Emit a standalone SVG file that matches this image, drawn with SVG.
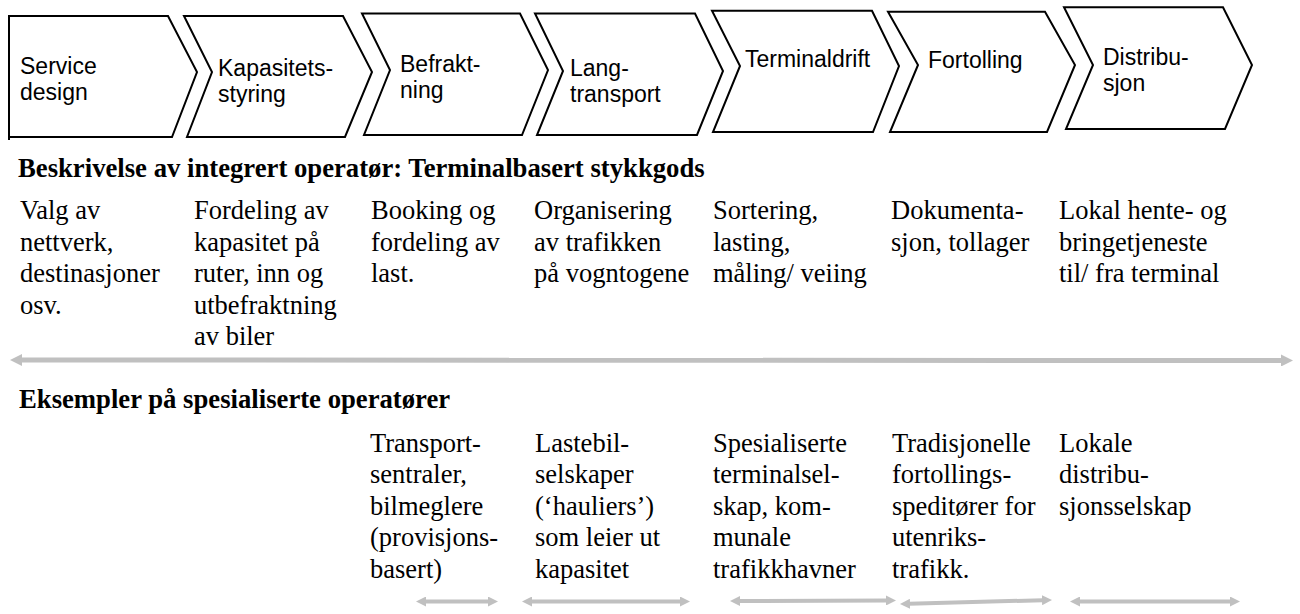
<svg xmlns="http://www.w3.org/2000/svg" width="1300" height="614" viewBox="0 0 1300 614">
<style>
.chev{fill:#fff;stroke:#000;stroke-width:2;stroke-linejoin:miter}
.ct{font-family:"Liberation Sans",Arial,sans-serif;font-size:23px;fill:#000}
.bt{font-family:"Liberation Serif","Times New Roman",serif;font-size:26.5px;fill:#000}
.hd{font-family:"Liberation Serif","Times New Roman",serif;font-size:26.7px;font-weight:bold;fill:#000}
.big{stroke:#c0c0c0;stroke-width:5;fill:none}
.sm{stroke:#c0c0c0;stroke-width:4;fill:none}
</style>
<defs>
<marker id="ahBig" viewBox="0 0 12 12" refX="1" refY="6" markerWidth="12" markerHeight="12" markerUnits="userSpaceOnUse" orient="auto-start-reverse">
<path d="M0,0 L12,6 L0,12 z" fill="#c0c0c0"/>
</marker>
<marker id="ahSm" viewBox="0 0 10 10" refX="1" refY="5" markerWidth="10" markerHeight="10" markerUnits="userSpaceOnUse" orient="auto-start-reverse">
<path d="M0,0 L10,5 L0,10 z" fill="#c0c0c0"/>
</marker>
</defs>
<rect width="1300" height="614" fill="#fff"/>

<g id="step-service-design">
<polygon class="chev" points="9,16 168,16 197,72 172,137 9,137"/>
<line x1="9" y1="137" x2="9" y2="140" stroke="#000" stroke-width="2"/>
<text class="ct" x="20" y="74">Service</text>
<text class="ct" x="20" y="100">design</text>
</g>
<g id="step-kapasitetsstyring">
<polygon class="chev" points="184,16 343,16 372,72 345,137 187,137 212,72"/>
<text class="ct" x="218" y="76">Kapasitets-</text>
<text class="ct" x="218" y="102">styring</text>
</g>
<g id="step-befraktning">
<polygon class="chev" points="362,13.5 520,13.5 548,70 522,135 364,135 390,70"/>
<text class="ct" x="400" y="72">Befrakt-</text>
<text class="ct" x="400" y="98">ning</text>
</g>
<g id="step-langtransport">
<polygon class="chev" points="535,13.5 695,13.5 723,71 697,135 537,135 563,71"/>
<text class="ct" x="570" y="76">Lang-</text>
<text class="ct" x="570" y="102">transport</text>
</g>
<g id="step-terminaldrift">
<polygon class="chev" points="712,10.7 872,10.7 899,66 873,132 713,132 740,66"/>
<text class="ct" x="745" y="67">Terminaldrift</text>
</g>
<g id="step-fortolling">
<polygon class="chev" points="888,11.7 1045,11.7 1075,65 1047,132 890,132 918,65"/>
<text class="ct" x="928" y="68">Fortolling</text>
</g>
<g id="step-distribusjon">
<polygon class="chev" points="1064,7.3 1223,7.3 1252,65 1225,129 1066,129 1093,65"/>
<text class="ct" x="1103" y="65">Distribu-</text>
<text class="ct" x="1103" y="91">sjon</text>
</g>

<g id="heading-integrert">
<text class="hd" x="18" y="177">Beskrivelse av integrert operatør: Terminalbasert stykkgods</text>
</g>

<g id="desc-service-design">
<text class="bt" x="20" y="219">Valg av</text>
<text class="bt" x="20" y="250.5">nettverk,</text>
<text class="bt" x="20" y="282">destinasjoner</text>
<text class="bt" x="20" y="313.5">osv.</text>
</g>
<g id="desc-kapasitetsstyring">
<text class="bt" x="194" y="219">Fordeling av</text>
<text class="bt" x="194" y="250.5">kapasitet på</text>
<text class="bt" x="194" y="282">ruter, inn og</text>
<text class="bt" x="194" y="313.5">utbefraktning</text>
<text class="bt" x="194" y="345">av biler</text>
</g>
<g id="desc-befraktning">
<text class="bt" x="371" y="219">Booking og</text>
<text class="bt" x="371" y="250.5">fordeling av</text>
<text class="bt" x="371" y="282">last.</text>
</g>
<g id="desc-langtransport">
<text class="bt" x="534" y="219">Organisering</text>
<text class="bt" x="534" y="250.5">av trafikken</text>
<text class="bt" x="534" y="282">på vogntogene</text>
</g>
<g id="desc-terminaldrift">
<text class="bt" x="713" y="219">Sortering,</text>
<text class="bt" x="713" y="250.5">lasting,</text>
<text class="bt" x="713" y="282">måling/ veiing</text>
</g>
<g id="desc-fortolling">
<text class="bt" x="891" y="219">Dokumenta-</text>
<text class="bt" x="891" y="250.5">sjon, tollager</text>
</g>
<g id="desc-distribusjon">
<text class="bt" x="1059" y="219">Lokal hente- og</text>
<text class="bt" x="1059" y="250.5">bringetjeneste</text>
<text class="bt" x="1059" y="282">til/ fra terminal</text>
</g>

<g id="heading-eksempler">
<text class="hd" x="19" y="408">Eksempler på spesialiserte operatører</text>
</g>

<g id="ex-befraktning">
<text class="bt" x="370" y="451.5">Transport-</text>
<text class="bt" x="370" y="483">sentraler,</text>
<text class="bt" x="370" y="514.5">bilmeglere</text>
<text class="bt" x="370" y="546">(provisjons-</text>
<text class="bt" x="370" y="577.5">basert)</text>
</g>
<g id="ex-langtransport">
<text class="bt" x="535" y="451.5">Lastebil-</text>
<text class="bt" x="535" y="483">selskaper</text>
<text class="bt" x="535" y="514.5">(‘hauliers’)</text>
<text class="bt" x="535" y="546">som leier ut</text>
<text class="bt" x="535" y="577.5">kapasitet</text>
</g>
<g id="ex-terminaldrift">
<text class="bt" x="713" y="451.5">Spesialiserte</text>
<text class="bt" x="713" y="483">terminalsel-</text>
<text class="bt" x="713" y="514.5">skap, kom-</text>
<text class="bt" x="713" y="546">munale</text>
<text class="bt" x="713" y="577.5">trafikkhavner</text>
</g>
<g id="ex-fortolling">
<text class="bt" x="892" y="451.5">Tradisjonelle</text>
<text class="bt" x="892" y="483">fortollings-</text>
<text class="bt" x="892" y="514.5">speditører for</text>
<text class="bt" x="892" y="546">utenriks-</text>
<text class="bt" x="892" y="577.5">trafikk.</text>
</g>
<g id="ex-distribusjon">
<text class="bt" x="1059" y="451.5">Lokale</text>
<text class="bt" x="1059" y="483">distribu-</text>
<text class="bt" x="1059" y="514.5">sjonsselskap</text>
</g>

<g id="connectors">
<line class="big" x1="21" y1="360" x2="1282" y2="360.5" marker-start="url(#ahBig)" marker-end="url(#ahBig)"/>
<line class="sm" x1="425" y1="601.5" x2="489" y2="601.5" marker-start="url(#ahSm)" marker-end="url(#ahSm)"/>
<line class="sm" x1="531" y1="601.5" x2="681" y2="601.5" marker-start="url(#ahSm)" marker-end="url(#ahSm)"/>
<line class="sm" x1="739" y1="601" x2="887" y2="600.5" marker-start="url(#ahSm)" marker-end="url(#ahSm)"/>
<line class="sm" x1="909" y1="603.8" x2="1043" y2="600.2" marker-start="url(#ahSm)" marker-end="url(#ahSm)"/>
<line class="sm" x1="1079" y1="601.5" x2="1231" y2="601.5" marker-start="url(#ahSm)" marker-end="url(#ahSm)"/>
</g>
</svg>
